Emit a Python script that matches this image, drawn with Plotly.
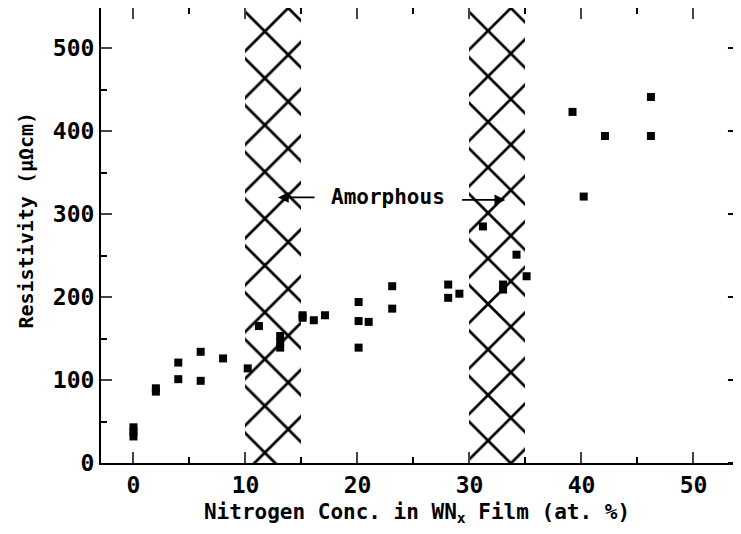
import plotly.graph_objects as go

# Data
nitrogen = [0, 0, 0, 2, 2, 4, 4, 6, 6, 8, 10.2, 11.2, 13.1, 13.1, 13.1, 15.1, 15.1, 16.1, 17.1,
            20.1, 20.1, 20.1, 21, 23.1, 23.1, 28.1, 28.1, 29.1, 31.2, 33, 33, 34.2, 35.1,
            39.2, 40.2, 42.1, 46.2, 46.2]
resistivity = [32, 38, 43, 86, 90, 121, 101, 134, 99, 126, 114, 165, 153, 146, 139, 175, 178, 172, 178,
               194, 171, 139, 170, 213, 186, 215, 199, 204, 285, 215, 209, 251, 225,
               423, 321, 394, 441, 394]

amorphous_centers = [12.5, 32.5]
amorphous_width = 5
amorphous_top = 550

x_ticks = [0, 10, 20, 30, 40, 50]
y_ticks = [0, 100, 200, 300, 400, 500]

FONT = "DejaVu Sans Mono"

fig = go.Figure()

# hatched "amorphous" bands (pattern size tuned so the crosses sit like the original)
for xc, psize in zip(amorphous_centers, [33.1, 32.2]):
    fig.add_trace(go.Bar(
        x=[xc], y=[amorphous_top], width=[amorphous_width],
        marker=dict(color="white", line=dict(width=0),
                    pattern=dict(shape="x", fgcolor="black", bgcolor="white", fgopacity=1,
                                 size=psize, solidity=0.16, fillmode="overlay")),
        hoverinfo="skip", showlegend=False,
    ))

fig.add_trace(go.Scatter(
    x=nitrogen, y=resistivity, mode="markers",
    marker=dict(symbol="square", size=8, color="black"),
    showlegend=False,
))

fig.update_layout(
    width=725, height=518,
    margin=dict(l=93, r=0, t=0, b=63, autoexpand=False),
    paper_bgcolor="white", plot_bgcolor="white",
    font=dict(family=FONT, color="black", size=20, weight="bold"),
    barmode="overlay", bargap=0,
    xaxis=dict(
        range=[-2.9, 53.53], tickvals=x_ticks, ticks="inside", ticklen=11, tickwidth=2,
        showline=True, linewidth=2, linecolor="black", mirror="ticks",
        showgrid=False, zeroline=False, automargin=False,
        minor=dict(dtick=5, ticks="inside", ticklen=6, tickwidth=2, tickcolor="black"),
        tickfont=dict(size=23, family=FONT, weight="bold"),
        title=dict(text="Nitrogen Conc. in WN<sub>x</sub> Film (at. %)",
                   font=dict(size=21, family=FONT, weight="bold"), standoff=9),
    ),
    yaxis=dict(
        range=[0, 548.2], tickvals=y_ticks, ticks="inside", ticklen=11, tickwidth=2,
        showline=True, linewidth=2, linecolor="black",
        showgrid=False, zeroline=False, automargin=False,
        minor=dict(dtick=50, ticks="inside", ticklen=6, tickwidth=2, tickcolor="black"),
        tickfont=dict(size=23, family=FONT, weight="bold"),
    ),
    annotations=[
        dict(text="Resistivity (μΩcm)", x=-0.119, xref="paper", xanchor="center",
             y=293, yref="y", yanchor="middle", textangle=-90,
             showarrow=False, font=dict(size=20, family=FONT, weight="bold")),
        dict(text="Amorphous", x=22.7, y=320, xref="x", yref="y",
             showarrow=False, font=dict(size=21, family=FONT, weight="bold")),
        dict(text="", x=12.9, y=320, ax=16.3, ay=320, xref="x", yref="y",
             axref="x", ayref="y", showarrow=True, arrowhead=2, arrowsize=1.2,
             arrowwidth=1.8, arrowcolor="black"),
        dict(text="", x=33.2, y=317, ax=29.2, ay=317, xref="x", yref="y",
             axref="x", ayref="y", showarrow=True, arrowhead=2, arrowsize=1.2,
             arrowwidth=1.8, arrowcolor="black"),
    ],
)

# right-side tick marks of the frame (no visible line at the cropped edge)
for yv in y_ticks:
    fig.add_shape(type="line", xref="paper", yref="y", x0=0.992, x1=1.0, y0=yv, y1=yv,
                  line=dict(color="black", width=2))

fig.write_html("out.html")
